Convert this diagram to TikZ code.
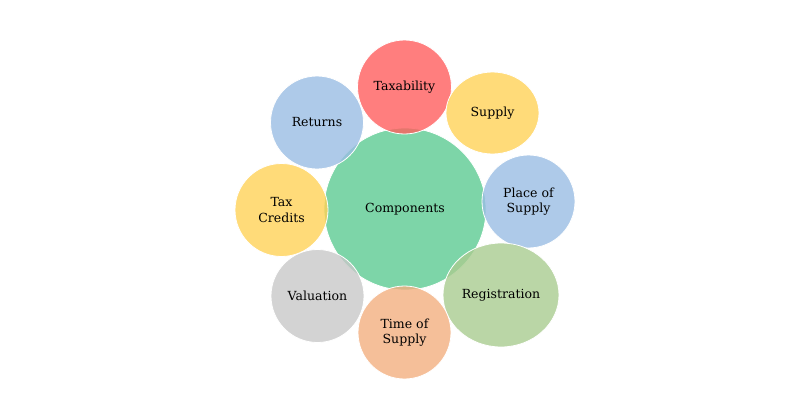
\documentclass[tikz,border=0pt]{standalone}
\usepackage{fontspec}
\setmainfont{DejaVu Serif}
\usetikzlibrary{shapes.geometric}

\definecolor{hubgreen}{HTML}{5CCB92}
\definecolor{taxred}{HTML}{FF5E5E}
\definecolor{softyellow}{HTML}{FFD257}
\definecolor{softblue}{HTML}{9ABDE3}
\definecolor{leafgreen}{HTML}{A9CC90}
\definecolor{peach}{HTML}{F3AF80}
\definecolor{softgray}{HTML}{C8C8C8}

\begin{document}
\begin{tikzpicture}[
        x=0.75pt, y=-0.75pt,
        bub/.style={circle, draw=white, line width=0.6pt, fill opacity=0.8, text opacity=1, align=center, font=\fontsize{9.4}{11.4}\selectfont, minimum size=69.75pt, inner sep=0pt},
        oval/.style={bub, ellipse}
        ]
        \useasboundingbox (0,0) rectangle (808,418);
        \node[bub, fill=hubgreen, minimum size=121.5pt] (hub) at (405,209) {Components};
        \node[bub, fill=taxred, minimum size=70.5pt]    (taxability) at (404.5,87)   {Taxability};
        \node[oval, fill=softyellow, minimum width=69.75pt, minimum height=61.5pt] (supply) at (492.5,113) {Supply};
        \node[bub, fill=softblue]   (place)     at (528.5,201.5) {Place of\\Supply};
        \node[oval, fill=leafgreen, minimum width=87pt, minimum height=78pt] (registration) at (501,295) {Registration};
        \node[bub, fill=peach]      (time)      at (404.5,332.5) {Time of\\Supply};
        \node[bub, fill=softgray]   (valuation) at (317.5,296)   {Valuation};
        \node[bub, fill=softyellow] (credits)   at (281.5,210)   {Tax\\Credits};
        \node[bub, fill=softblue]   (returns)   at (317,122.5)   {Returns};
    \end{tikzpicture}
\end{document}
